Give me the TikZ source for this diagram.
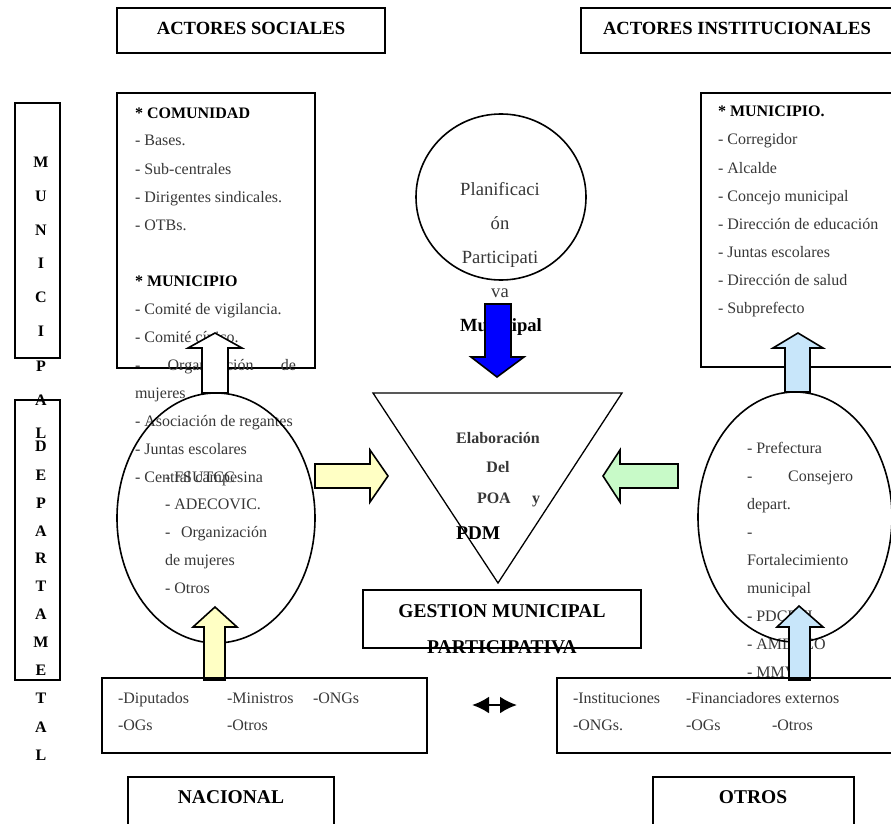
\documentclass[tikz,border=0pt]{standalone}
\usepackage{fontspec}
\setmainfont{Liberation Serif}
\usetikzlibrary{arrows.meta}
\definecolor{paleyellow}{RGB}{255,255,196}
\definecolor{palegreen}{RGB}{200,250,200}
\definecolor{paleblue}{RGB}{200,230,250}
\definecolor{inkgray}{RGB}{55,55,55}
\tikzset{
  every node/.style={inner sep=0pt, outer sep=0pt},
  frame/.style={draw=black, line width=1.6pt},
  body/.style={anchor=base west, font=\fontsize{16}{16}\selectfont, text=inkgray},
  bodyb/.style={anchor=base west, font=\fontsize{16}{16}\selectfont\bfseries, text=black},
  title/.style={anchor=base, font=\fontsize{18.6}{18.6}\selectfont\bfseries},
  bigb/.style={anchor=base, font=\fontsize{19.5}{19.5}\selectfont\bfseries},
  midb/.style={anchor=base, font=\fontsize{16}{16}\selectfont\bfseries, text=inkgray},
  plan/.style={anchor=base, font=\fontsize{18.6}{18.6}\selectfont, text=inkgray},
  vletter/.style={anchor=base, font=\fontsize{16}{16}\selectfont\bfseries},
  blockarrow/.style={draw=black, line width=1.6pt, line join=miter},
}
\begin{document}
\begin{tikzpicture}[x=1pt,y=-1pt]
\useasboundingbox (0,0) rectangle (891,824);
\clip (0,0) rectangle (891,824);

% ---------- title boxes ----------
\draw[frame] (117,8) rectangle (385,53);
\node[title] (tsoc) at (251,35) {ACTORES SOCIALES};
\draw[frame] (581,8) rectangle (895,53);
\node[title] (tinst) at (737,35) {ACTORES INSTITUCIONALES};

% ---------- vertical label ----------
\draw[frame] (15,103) rectangle (60,358);
\draw[frame] (15,400) rectangle (60,680);
\foreach \c/\yy [count=\i] in {M/167,U/201,N/235,I/268,C/302,I/336,P/371,A/405,L/438}
  \node[vletter] (vm\i) at (41,\yy) {\c};
\foreach \c/\yy [count=\i] in {D/451,E/480,P/508,A/536,R/563,T/591,A/619,M/647,E/675,T/703,A/732,L/760}
  \node[vletter] (vd\i) at (41,\yy) {\c};

% ---------- social actors: box, list and ellipse ----------
\draw[frame] (117,93) rectangle (315,368);
\node[bodyb] (c1) at (135,118) {* COMUNIDAD};
\node[body] (c2) at (135,146) {- Bases.};
\node[body] (c3) at (135,174) {- Sub-centrales};
\node[body] (c4) at (135,202) {- Dirigentes sindicales.};
\node[body] (c5) at (135,230) {- OTBs.};
\node[bodyb] (m1) at (135,286) {* MUNICIPIO};
\node[body] (m2) at (135,314) {- Comité de vigilancia.};
\node[body] (m3) at (135,342) {- Comité cívico.};
\node[body] (m4) at (135,370) {\hbox to 161pt{-\hfill Organización\hfill de}};
\node[body] (m5) at (135,398) {mujeres};
\node[body] (m6) at (135,426) {- Asociación de regantes};
\node[body] (m7) at (135,454) {- Juntas escolares};
\node[body] (m8) at (135,482) {- Central campesina};
\node[body] (e1) at (165,482) {- FSUTCC};
\node[body] (e2) at (165,509) {- ADECOVIC.};
\node[body] (e3) at (165,537) {\hbox to 102pt{-\hfill Organización}};
\node[body] (e4) at (165,565) {de mujeres};
\node[body] (e5) at (165,593) {- Otros};
\draw[line width=1.6pt] (216,518) ellipse [x radius=99, y radius=125];

% white arrow from the ellipse up into the list
\draw[blockarrow, fill=white] (202,393) -- (202,348) -- (188,348) -- (215,333)
  -- (242,348) -- (228,348) -- (228,393) -- cycle;
% yellow arrow from the national box up into the ellipse
\draw[blockarrow, fill=paleyellow] (204,680) -- (204,627) -- (193,627) -- (215,607)
  -- (237,627) -- (225,627) -- (225,680) -- cycle;
% yellow arrow towards the triangle
\draw[blockarrow, fill=paleyellow] (315,464) -- (370,464) -- (370,450) -- (388,476)
  -- (370,502) -- (370,488) -- (315,488) -- cycle;

% ---------- planning circle ----------
\draw[line width=1.6pt] (501,197) ellipse [x radius=85, y radius=83];
\node[plan] (p1) at (500,195) {Planificaci};
\node[plan] (p2) at (500,229) {ón};
\node[plan] (p3) at (500,263) {Participati};
\node[plan] (p4) at (500,297) {va};
\node[anchor=base, font=\fontsize{18.6}{18.6}\selectfont\bfseries] (p5) at (501,331) {Municipal};
\draw[blockarrow, fill=blue] (485,304) -- (511,304) -- (511,357) -- (524,357) -- (497,377)
  -- (471,357) -- (485,357) -- cycle;

% ---------- triangle ----------
\draw[line width=1.3pt, line join=miter] (373,393) -- (622,393) -- (498,583) -- cycle;
\node[midb] (t1) at (498,443) {Elaboración};
\node[midb] (t2) at (498,472) {Del};
\node[midb, anchor=base west] (t3) at (477,503) {POA};
\node[midb, anchor=base west] (t4) at (532,503) {y};
\node[bigb, anchor=base west] (t5) at (456,539) {PDM};

% ---------- central box ----------
\draw[frame] (363,590) rectangle (641,648);
\node[bigb] (g1) at (502,617) {GESTION MUNICIPAL};
\node[bigb] (g2) at (502,653) {PARTICIPATIVA};

% ---------- institutional actors ----------
\draw[frame] (701,93) rectangle (895,367);
\node[bodyb] (r1) at (718,117) {* MUNICIPIO.};
\node[body] (r2) at (718,145) {- Corregidor};
\node[body] (r3) at (718,173) {- Alcalde};
\node[body] (r4) at (718,201) {- Concejo municipal};
\node[body] (r5) at (718,229) {- Dirección de educación};
\node[body] (r6) at (718,257) {- Juntas escolares};
\node[body] (r7) at (718,285) {- Dirección de salud};
\node[body] (r8) at (718,313) {- Subprefecto};

\node[body] (d1) at (747,453) {- Prefectura};
\node[body] (d2) at (747,481) {\hbox to 106pt{-\hfill Consejero}};
\node[body] (d3) at (747,509) {depart.};
\node[body] (d4) at (747,537) {-};
\node[body] (d5) at (747,565) {Fortalecimiento};
\node[body] (d6) at (747,593) {municipal};
\node[body] (d7) at (747,621) {- PDCR II};
\node[body] (d8) at (747,649) {- AMDECO};
\node[body] (d9) at (747,677) {- MMV};
\draw[line width=1.6pt] (795,517) ellipse [x radius=97, y radius=125];

\draw[blockarrow, fill=paleblue] (785,392) -- (785,348) -- (773,348) -- (798,333)
  -- (823,348) -- (810,348) -- (810,392) -- cycle;
\draw[blockarrow, fill=paleblue] (789,680) -- (789,627) -- (777,627) -- (799,606)
  -- (823,627) -- (810,627) -- (810,680) -- cycle;
% green arrow towards the triangle
\draw[blockarrow, fill=palegreen] (678,464) -- (620,464) -- (620,450) -- (603,476)
  -- (620,502) -- (620,488) -- (678,488) -- cycle;

% ---------- bottom boxes ----------
\draw[frame] (102,678) rectangle (427,753);
\node[body] (n1) at (118,703) {-Diputados};
\node[body] (n2) at (227,703) {-Ministros};
\node[body] (n3) at (313,703) {-ONGs};
\node[body] (n4) at (118,730) {-OGs};
\node[body] (n5) at (227,730) {-Otros};

\draw[frame] (557,678) rectangle (895,753);
\node[body] (o1) at (573,703) {-Instituciones};
\node[body] (o2) at (686,703) {-Financiadores externos};
\node[body] (o3) at (573,730) {-ONGs.};
\node[body] (o4) at (686,730) {-OGs};
\node[body] (o5) at (772,730) {-Otros};

\coordinate (dl) at (472,705);
\coordinate (dr) at (517,705);
\draw[line width=2.6pt, {Latex[length=17pt,width=17pt]}-{Latex[length=17pt,width=17pt]}] (dl) -- (dr);

\draw[frame] (128,777) rectangle (334,830);
\node[bigb] (nac) at (231,803) {NACIONAL};
\draw[frame] (653,777) rectangle (854,830);
\node[bigb] (otr) at (753,803) {OTROS};
\end{tikzpicture}
\end{document}
